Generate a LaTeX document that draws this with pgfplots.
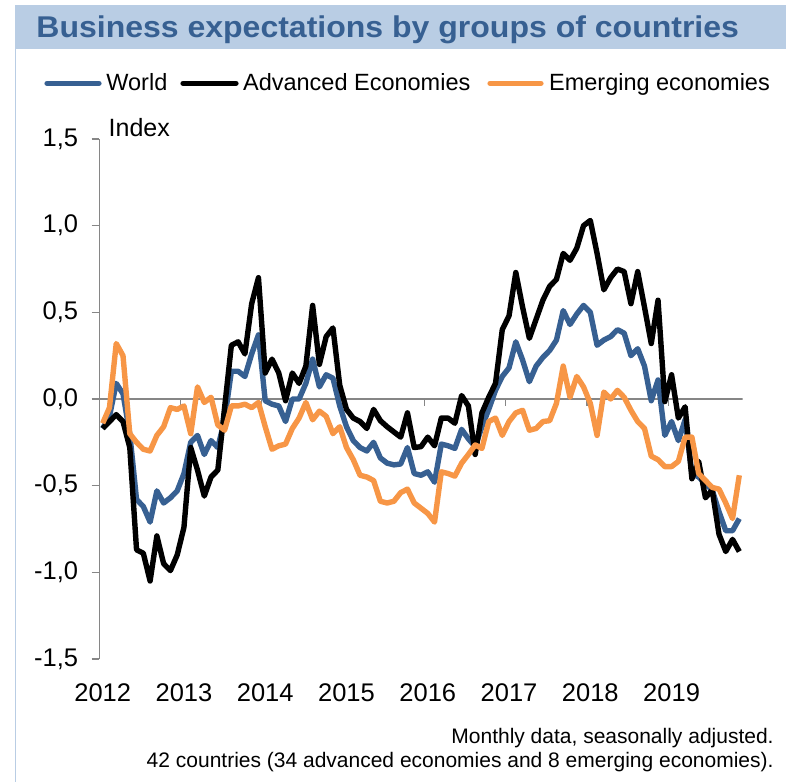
\documentclass[border=0pt]{standalone}
\usepackage{fontspec}
\setmainfont{Liberation Sans}
\usepackage{graphicx}
\usepackage{pgfplots}
\pgfplotsset{compat=1.18}
\usepackage{pgfplotstable}
\definecolor{titleblue}{RGB}{55,96,146}
\definecolor{barblue}{RGB}{185,205,228}
\definecolor{worldblue}{RGB}{55,96,146}
\definecolor{emorange}{RGB}{247,150,70}
\definecolor{axgray}{RGB}{134,134,134}

\pgfplotstableread{
i world adv emerg
0 -0.17 -0.17 -0.14
1 -0.10 -0.13 -0.05
2 0.09 -0.09 0.32
3 0.03 -0.13 0.25
4 -0.20 -0.28 -0.20
5 -0.58 -0.87 -0.25
6 -0.62 -0.89 -0.29
7 -0.71 -1.05 -0.30
8 -0.53 -0.79 -0.21
9 -0.60 -0.95 -0.16
10 -0.57 -0.99 -0.05
11 -0.53 -0.90 -0.06
12 -0.43 -0.74 -0.04
13 -0.25 -0.28 -0.20
14 -0.21 -0.41 0.07
15 -0.32 -0.56 -0.02
16 -0.24 -0.45 0.01
17 -0.28 -0.41 -0.15
18 -0.12 -0.05 -0.18
19 0.16 0.31 -0.04
20 0.16 0.33 -0.04
21 0.13 0.26 -0.03
22 0.26 0.55 -0.05
23 0.37 0.70 -0.02
24 -0.01 0.15 -0.16
25 -0.03 0.23 -0.29
26 -0.04 0.15 -0.27
27 -0.13 -0.01 -0.26
28 0.00 0.15 -0.17
29 0.00 0.09 -0.11
30 0.09 0.19 -0.02
31 0.23 0.54 -0.12
32 0.07 0.20 -0.07
33 0.14 0.36 -0.10
34 0.12 0.41 -0.20
35 -0.04 0.08 -0.16
36 -0.16 -0.06 -0.28
37 -0.24 -0.11 -0.35
38 -0.28 -0.13 -0.44
39 -0.30 -0.17 -0.45
40 -0.25 -0.06 -0.47
41 -0.34 -0.125 -0.59
42 -0.37 -0.16 -0.60
43 -0.38 -0.19 -0.59
44 -0.375 -0.22 -0.54
45 -0.28 -0.08 -0.52
46 -0.43 -0.28 -0.60
47 -0.44 -0.275 -0.63
48 -0.42 -0.22 -0.66
49 -0.48 -0.27 -0.71
50 -0.26 -0.11 -0.42
51 -0.27 -0.11 -0.43
52 -0.285 -0.14 -0.445
53 -0.175 0.02 -0.37
54 -0.23 -0.04 -0.32
55 -0.275 -0.32 -0.265
56 -0.16 -0.08 -0.285
57 -0.06 0.01 -0.13
58 0.05 0.09 -0.11
59 0.13 0.40 -0.21
60 0.18 0.48 -0.13
61 0.33 0.73 -0.08
62 0.225 0.53 -0.065
63 0.10 0.35 -0.18
64 0.19 0.46 -0.17
65 0.24 0.57 -0.13
66 0.28 0.65 -0.125
67 0.34 0.69 -0.025
68 0.51 0.84 0.19
69 0.43 0.80 0.01
70 0.49 0.87 0.13
71 0.54 1.00 0.07
72 0.50 1.03 -0.025
73 0.31 0.84 -0.21
74 0.34 0.63 0.04
75 0.36 0.70 0.00
76 0.40 0.75 0.05
77 0.38 0.735 0.01
78 0.25 0.55 -0.065
79 0.29 0.735 -0.13
80 0.19 0.53 -0.17
81 -0.01 0.32 -0.33
82 0.11 0.57 -0.35
83 -0.21 -0.015 -0.39
84 -0.13 0.14 -0.39
85 -0.24 -0.11 -0.36
86 -0.12 -0.045 -0.22
87 -0.43 -0.46 -0.22
88 -0.45 -0.36 -0.43
89 -0.49 -0.57 -0.47
90 -0.525 -0.525 -0.51
91 -0.65 -0.78 -0.52
92 -0.76 -0.88 -0.60
93 -0.76 -0.81 -0.69
94 -0.69 -0.88 -0.44
}\data

\begin{document}
\begin{tikzpicture}[x=0.5pt,y=0.5pt]
\useasboundingbox (0,0) rectangle (786,782);
% title bar and frame
\fill[barblue] (15,733) rectangle (786,777);
\draw[barblue, line width=0.75pt] (15.5,733) -- (15.5,0);
\node[anchor=base west, inner sep=0pt, text=titleblue, font=\fontsize{15}{18}\selectfont\bfseries] at (36,744.3) {\scalebox{1.067}[1]{Business expectations by groups of countries}};
% legend
\draw[worldblue, line width=2.6pt, line cap=round] (47,698.7) -- (99,698.7);
\node[anchor=base west, inner sep=0pt, font=\fontsize{11.75}{14}\selectfont] at (106,691.3) {World};
\draw[black, line width=2.6pt, line cap=round] (183,698.7) -- (236,698.7);
\node[anchor=base west, inner sep=0pt, font=\fontsize{11.75}{14}\selectfont] at (242.7,691.3) {Advanced Economies};
\draw[emorange, line width=2.6pt, line cap=round] (490,698.7) -- (541,698.7);
\node[anchor=base west, inner sep=0pt, font=\fontsize{11.75}{14}\selectfont] at (548.7,691.3) {Emerging economies};
% unit label
\node[anchor=base west, inner sep=0pt, font=\fontsize{12.5}{15}\selectfont] at (108.3,645.3) {Index};
% footnote
\node[anchor=base east, inner sep=0pt, font=\fontsize{10.5}{12}\selectfont] at (774,39) {Monthly data, seasonally adjusted.};
\node[anchor=base east, inner sep=0pt, font=\fontsize{10.5}{12}\selectfont] at (774,15) {42 countries (34 advanced economies and 8 emerging economies).};

\begin{axis}[
  at={(49.65pt,61.5pt)}, anchor=south west,
  scale only axis, width=321.7pt, height=260pt,
  xmin=-0.5, xmax=94.5, ymin=-1.5, ymax=1.5,
  separate axis lines,
  axis y line*=left, axis x line*=bottom,
  x axis line style={draw=none},
  y axis line style={draw=axgray, line width=0.65pt},
  xtick={0,12,24,36,48,60,72,84},
  xticklabels={2012,2013,2014,2015,2016,2017,2018,2019},
  x tick style={draw=none},
  ytick={-1.5,-1,-0.5,0,0.5,1,1.5},
  yticklabels={{-1,5},{-1,0},{-0,5},{0,0},{0,5},{1,0},{1,5}},
  y tick style={draw=axgray, line width=0.65pt},
  tick align=outside, major tick length=3.8pt,
  ticklabel style={font=\fontsize{12.75}{15}\selectfont},
  xticklabel style={anchor=base, inner sep=0pt, yshift=-17.5pt},
  yticklabel style={anchor=east, inner sep=0pt, xshift=-6.6pt},
  every axis plot/.append style={no marks, line join=round, line width=2.7pt},
]
\draw[axgray, line width=0.65pt] (axis cs:-0.5,0) -- (axis cs:94.5,0);
\pgfplotsinvokeforeach{11.5,23.5,35.5,47.5,59.5,71.5,83.5}{
  \draw[axgray, line width=0.65pt] (axis cs:#1,0) -- ++(0pt,-3.5pt);
}
\addplot[worldblue] table[x=i, y=world]{\data};
\addplot[black] table[x=i, y=adv]{\data};
\addplot[emorange] table[x=i, y=emerg]{\data};
\end{axis}
\end{tikzpicture}
\end{document}
